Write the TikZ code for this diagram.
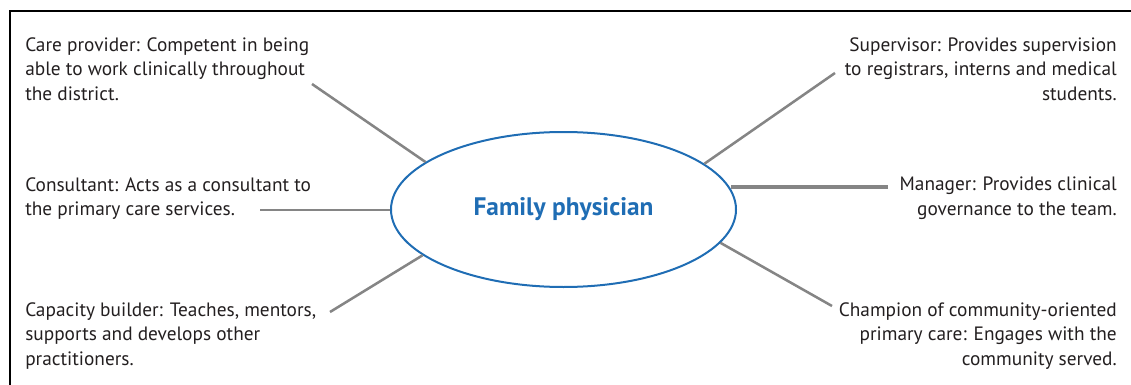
\documentclass[tikz,border=0pt]{standalone}
\usepackage{fontspec}
\setmainfont{PT Sans}
\definecolor{fpxanh}{HTML}{1F6DB4}
\definecolor{fpxam}{HTML}{858585}
\definecolor{fpchu}{HTML}{231F20}
\def\maulien{fpxam}
\def\mauvien{fpxanh}
\def\mauchu{fpchu}
\usetikzlibrary{shapes.geometric}

\begin{document}
\begin{tikzpicture}[x=0.75pt,y=-0.75pt,
	declare function={rx=172.5;ry=77.5;},
	vaitro/.style={inner sep=0pt,text=\mauchu,font=\fontsize{14.5}{18.4}\selectfont},
	traitro/.style={vaitro,anchor=north west,align=left},
	phaivt/.style={vaitro,anchor=north east,align=right},
	lien/.style={draw=\maulien,line width=1.9pt}]
		\useasboundingbox (0,0) rectangle (1131,385);
		\draw[line width=1.5pt] (10,385) -- (10,11) -- (1131,11);
		\path (563.5,209.5) node[ellipse,draw=\mauvien,line width=1.5pt,inner sep=0pt,
			minimum width=2*rx*0.75pt,minimum height=2*ry*0.75pt,
			font=\fontsize{19}{22}\selectfont\bfseries,text=\mauvien] (fp) {Family physician};
		\path (25,37) node[traitro] (care) {Care provider: Competent in being\\able to work clinically throughout\\the district.}
		(25,177) node[traitro] (consult) {Consultant: Acts as a consultant to\\the primary care services.}
		(25,302) node[traitro] (capacity) {Capacity builder: Teaches, mentors,\\supports and develops other\\practitioners.}
		(1117,37) node[phaivt] (super) {Supervisor: Provides supervision\\to registrars, interns and medical\\students.}
		(1117,177) node[phaivt] (manager) {Manager: Provides clinical\\governance to the team.}
		(1117,302) node[phaivt] (champion) {Champion of community-oriented\\primary care: Engages with the\\community served.};
		\path (312,84) coordinate (lcare)
		(260,210) coordinate (lconsult)
		(330,312) coordinate (lcapacity)
		(835,73) coordinate (lsuper)
		(888,187) coordinate (lmanager)
		(832,306) coordinate (lchampion);
		\draw[lien] (lcare) -- (fp.161);
		\draw[lien] (lconsult) -- (lconsult -| fp.west);
		\draw[lien] (lcapacity) -- (fp.198);
		\draw[lien] (lsuper) -- (fp.18);
		\draw[lien,line width=2.4pt] (lmanager) -- (lmanager -| fp.7.6);
		\draw[lien] (lchampion) -- (fp.348);
	\end{tikzpicture}
\end{document}
